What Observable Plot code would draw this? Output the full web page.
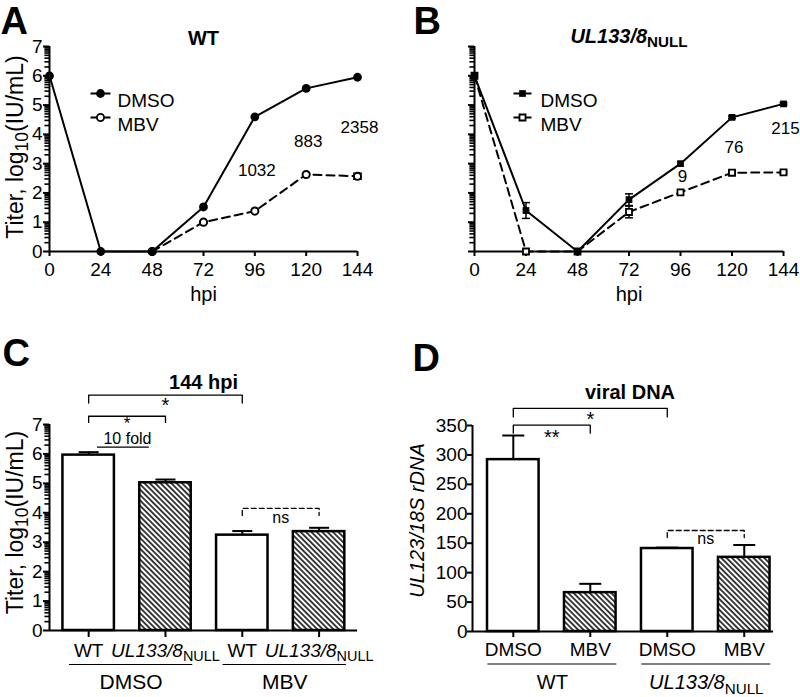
<!DOCTYPE html>
<html><head><meta charset="utf-8">
<script src="https://cdn.jsdelivr.net/npm/d3@7"></script>
<script src="https://cdn.jsdelivr.net/npm/@observablehq/plot@0.6"></script>
<style>
body{margin:0;background:#fff;}
#fig{position:relative;width:800px;height:697px;overflow:hidden;background:#fff;}
</style></head><body>
<svg width="0" height="0" style="position:absolute"><defs>
<pattern id="hatch" patternUnits="userSpaceOnUse" width="3.8" height="3.8" patternTransform="rotate(45)">
<rect width="3.8" height="3.8" fill="white"/><line x1="0" y1="1.9" x2="3.8" y2="1.9" stroke="black" stroke-width="1.5"/>
</pattern></defs></svg>
<div id="fig"></div>
<script>
// ---------------- DATA ----------------
const hpi = [0, 24, 48, 72, 96, 120, 144];
const series = ["DMSO", "MBV"];
// Panel A: WT
const wtDMSO = [6.0, 0, 0, 1.52, 4.6, 5.57, 5.95];
const wtMBV = [null, null, 0, 1.0, 1.38, 2.63, 2.57];
const wtMBVErr = [0, 0, 0, 0, 0, 0, 0.1];
const wtFoldHpi = [96, 120, 144];
const wtFold = ["1032", "883", "2358"];
// Panel B: UL133/8 NULL
const nullDMSO = [6.0, 1.4, 0, 1.77, 3.0, 4.58, 5.04];
const nullDMSOErr = [0, 0.27, 0, 0.2, 0, 0.04, 0.04];
const nullMBV = [6.0, 0, 0, 1.35, 2.02, 2.69, 2.7];
const nullMBVErr = [0, 0, 0, 0.2, 0, 0.05, 0.04];
const nullFoldHpi = [96, 120, 144];
const nullFold = ["9", "76", "215"];
// Panel C: 144 hpi titer
const cTreat = ["DMSO", "DMSO", "MBV", "MBV"];
const cStrain = ["WT", "UL133/8NULL", "WT", "UL133/8NULL"];
const cTiter = [5.96, 5.02, 3.24, 3.36];
const cErr = [0.1, 0.11, 0.14, 0.13];
const cComparisons = [{from: 0, to: 2, label: "*"}, {from: 0, to: 1, label: "*"}, {from: 2, to: 3, label: "ns"}];
// Panel D: viral DNA
const dStrain = ["WT", "WT", "UL133/8NULL", "UL133/8NULL"];
const dTreat = ["DMSO", "MBV", "DMSO", "MBV"];
const dDNA = [292, 66, 141, 126];
const dErr = [41, 15, 1.5, 21];
const dComparisons = [{from: 0, to: 2, label: "*"}, {from: 0, to: 1, label: "**"}, {from: 2, to: 3, label: "ns"}];
const yTicksTiter = [0, 1, 2, 3, 4, 5, 6, 7];
const yTicksDNA = [0, 50, 100, 150, 200, 250, 300, 350];

// ---------------- HELPERS ----------------
const FONT = '"Liberation Sans", Arial, Helvetica, sans-serif';
const baseStyle = {fontFamily: FONT, fontSize: "19px", color: "black", background: "transparent", overflow: "visible"};
const strainLabel = {"WT": "WT", "UL133/8NULL": "~UL133/8~_{NULL}"};
const hseg = {draw(ctx, size) { const r = Math.sqrt(size / Math.PI); ctx.moveTo(-r, 0); ctx.lineTo(r, 0); }};
const logMinor = (max) => d3.range(0, max).flatMap(k => d3.range(2, 10).map(m => k + Math.log10(m)));
const BAR_HALF = 0.335;

function richText(svg) {
  const NS = "http://www.w3.org/2000/svg";
  svg.querySelectorAll("text").forEach(t => {
    if (t.querySelector("tspan")) return;
    const s = t.textContent;
    if (!s.includes("~") && !s.includes("_{")) return;
    const base = parseFloat(getComputedStyle(t).fontSize) || 19;
    const segs = [];
    let italic = false, buf = "", i = 0;
    const flush = () => { if (buf) segs.push({text: buf, italic, sub: false}); buf = ""; };
    while (i < s.length) {
      if (s[i] === "~") { flush(); italic = !italic; i++; }
      else if (s.startsWith("_{", i)) { flush(); const j = s.indexOf("}", i); segs.push({text: s.slice(i + 2, j), italic: false, sub: true}); i = j + 1; }
      else buf += s[i++];
    }
    flush();
    t.textContent = "";
    let shift = 0;
    for (const g of segs) {
      const ts = document.createElementNS(NS, "tspan");
      ts.textContent = g.text;
      if (g.italic) ts.setAttribute("font-style", "italic");
      const target = g.sub ? 0.24 * base : 0;
      if (target !== shift) { ts.setAttribute("dy", (target - shift) + "px"); shift = target; }
      if (g.sub) ts.setAttribute("font-size", (0.76 * base) + "px");
      t.appendChild(ts);
    }
  });
}
const fig = document.getElementById("fig");
function place(svg, left, top) {
  svg.style.position = "absolute"; svg.style.left = left + "px"; svg.style.top = top + "px";
  svg.style.maxWidth = "none";
  fig.appendChild(svg); richText(svg);
}
function titerAxes(showLabels, xAxisPos) {
  return [
    Plot.dot(logMinor(7), {x: () => xAxisPos, y: d => d, dx: -2.5, symbol: hseg, r: 2.6, stroke: "black", strokeWidth: 1.6, fill: "none"}),
    Plot.axisY({ticks: yTicksTiter, tickSize: 6, tickPadding: 1, strokeWidth: 2, label: null, tickFormat: showLabels ? (d => d) : (() => "")})
  ];
}
function legend(dxSym, dxText, half, filledSym, openSym, rFilled, rOpen) {
  const rows = [47, 71];
  return series.flatMap((name, k) => [
    Plot.dot([name], {frameAnchor: "top-left", dx: dxSym, dy: rows[k], symbol: hseg, r: half, stroke: "black", strokeWidth: 2, fill: "none"}),
    k === 0
      ? Plot.dot([name], {frameAnchor: "top-left", dx: dxSym, dy: rows[k], symbol: filledSym, r: rFilled, fill: "black"})
      : Plot.dot([name], {frameAnchor: "top-left", dx: dxSym, dy: rows[k], symbol: openSym, r: rOpen, fill: "white", stroke: "black", strokeWidth: 1.8}),
    Plot.text([name], {frameAnchor: "top-left", dx: dxText, dy: rows[k], textAnchor: "start", fontSize: 19})
  ]);
}
function errMarks(rows, cap) {
  const e = rows.filter(d => d.e > 0);
  return [
    Plot.ruleX(e, {x: "hpi", y1: d => d.v - d.e, y2: d => d.v + d.e, strokeWidth: 1.5}),
    Plot.dot(e, {x: "hpi", y: d => d.v - d.e, symbol: hseg, r: cap, stroke: "black", strokeWidth: 1.5, fill: "none"}),
    Plot.dot(e, {x: "hpi", y: d => d.v + d.e, symbol: hseg, r: cap, stroke: "black", strokeWidth: 1.5, fill: "none"})
  ];
}
function bracketMarks(comps, layout) {
  const out = [];
  comps.forEach((c, k) => {
    const L = layout[k];
    const pts = [[c.from, L.level - L.drop], [c.from, L.level], [c.to, L.level], [c.to, L.level - L.drop]].map(([x, y]) => ({x, y}));
    out.push(Plot.line(pts, {x: "x", y: "y", strokeWidth: 1.3, strokeDasharray: L.dash ? "5,3" : null}));
    out.push(Plot.text([c], {x: d => (d.from + d.to) / 2, y: () => L.level, dy: L.ldy, lineAnchor: "top", text: "label", fontSize: c.label === "ns" ? 16 : (L.fs || 20)}));
  });
  return out;
}
function groupsOf(arr) {
  const g = [];
  arr.forEach((name, i) => { const last = g[g.length - 1]; if (last && last.name === name) last.last = i; else g.push({name, first: i, last: i}); });
  return g;
}

// ---------------- PANEL A ----------------
const aDMSO = hpi.map((h, i) => ({hpi: h, v: wtDMSO[i]}));
const aMBV = hpi.map((h, i) => ({hpi: h, v: wtMBV[i], e: wtMBVErr[i]})).filter(d => d.v != null);
const aFoldY = [2.78, 3.75, 4.24];
const aFold = wtFoldHpi.map((h, i) => ({hpi: h, y: aFoldY[i], label: wtFold[i]}));
const svgA = Plot.plot({
  width: 400, height: 320, marginLeft: 49, marginRight: 43, marginTop: 46, marginBottom: 69,
  style: baseStyle,
  x: {domain: [0, 144]}, y: {domain: [0, 7]},
  marks: [
    ...titerAxes(true, 0),
    Plot.axisX({ticks: hpi, tickSize: 5, tickPadding: 6, strokeWidth: 2, label: null}),
    Plot.ruleY([0], {strokeWidth: 2}),
    Plot.ruleX([0], {strokeWidth: 2}),
    Plot.line(aMBV, {x: "hpi", y: "v", strokeWidth: 2, strokeDasharray: "8,5"}),
    Plot.line(aDMSO, {x: "hpi", y: "v", strokeWidth: 2}),
    ...errMarks(aMBV, 4.5),
    Plot.dot(aMBV, {x: "hpi", y: "v", r: 3.6, fill: "white", stroke: "black", strokeWidth: 2}),
    Plot.dot(aDMSO, {x: "hpi", y: "v", r: 4.4, fill: "black"}),
    ...legend(51, 68, 10, "circle", "circle", 4.4, 3.6),
    Plot.text(aFold, {x: "hpi", y: "y", dx: 2, text: "label", fontSize: 17}),
    Plot.text(["WT"], {frameAnchor: "top", dy: -2, lineAnchor: "bottom", fontWeight: "bold", fontSize: 20}),
    Plot.text(["A"], {frameAnchor: "top-left", dx: -49, dy: -13, textAnchor: "start", lineAnchor: "bottom", fontWeight: "bold", fontSize: 38}),
    Plot.text(["Titer, log_{10}(IU/mL)"], {frameAnchor: "left", dx: -34, dy: -2, textAnchor: "middle", rotate: -90, fontSize: 23}),
    Plot.text(["hpi"], {frameAnchor: "bottom", dy: 49, lineAnchor: "bottom", fontSize: 20})
  ]
});
place(svgA, 0, 0);

// ---------------- PANEL B ----------------
const bDMSO = hpi.map((h, i) => ({hpi: h, v: nullDMSO[i], e: nullDMSOErr[i]}));
const bMBV = hpi.map((h, i) => ({hpi: h, v: nullMBV[i], e: nullMBVErr[i]}));
const bFoldY = [2.55, 3.55, 4.2];
const bFold = nullFoldHpi.map((h, i) => ({hpi: h, y: bFoldY[i], label: nullFold[i]}));
const svgB = Plot.plot({
  width: 400, height: 320, marginLeft: 74, marginRight: 17, marginTop: 46, marginBottom: 69,
  style: baseStyle,
  x: {domain: [0, 144]}, y: {domain: [0, 7]},
  marks: [
    ...titerAxes(false, 0),
    Plot.axisX({ticks: hpi, tickSize: 5, tickPadding: 6, strokeWidth: 2, label: null}),
    Plot.ruleY([0], {strokeWidth: 2}),
    Plot.ruleX([0], {strokeWidth: 2}),
    Plot.line(bMBV, {x: "hpi", y: "v", strokeWidth: 2, strokeDasharray: "8,5"}),
    Plot.line(bDMSO, {x: "hpi", y: "v", strokeWidth: 2}),
    ...errMarks(bMBV, 4),
    ...errMarks(bDMSO, 4),
    Plot.dot(bMBV, {x: "hpi", y: "v", symbol: "square", r: 3.4, fill: "white", stroke: "black", strokeWidth: 1.8}),
    Plot.dot(bDMSO, {x: "hpi", y: "v", symbol: "square", r: 3.8, fill: "black"}),
    ...legend(48, 66, 9, "square", "square", 3.8, 3.4),
    Plot.text(bFold, {x: "hpi", y: "y", dx: 2, text: "label", fontSize: 17}),
    Plot.text(["~UL133/8~_{NULL}"], {frameAnchor: "top", dy: -4, lineAnchor: "bottom", fontWeight: "bold", fontSize: 20}),
    Plot.text(["B"], {frameAnchor: "top-left", dx: -61, dy: -13, textAnchor: "start", lineAnchor: "bottom", fontWeight: "bold", fontSize: 38}),
    Plot.text(["hpi"], {frameAnchor: "bottom", dy: 49, lineAnchor: "bottom", fontSize: 20})
  ]
});
place(svgB, 400, 0);

// ---------------- PANEL C ----------------
const cData = cTreat.map((t, i) => ({i, treat: t, strain: cStrain[i], v: cTiter[i], e: cErr[i]}));
const cGroups = groupsOf(cTreat).map(g => ({...g, x1: g.first - 0.25, x2: g.last + 0.355}));
const cLayout = [{level: 8.0, drop: 0.27, dash: false, ldy: 3}, {level: 7.28, drop: 0.21, dash: false, ldy: 1, fs: 17}, {level: 4.15, drop: 0.24, dash: true, ldy: 3}];
const cX = [-0.51, 3.5];
const svgC = Plot.plot({
  width: 400, height: 377, marginLeft: 49, marginRight: 43, marginTop: 104, marginBottom: 67,
  style: baseStyle,
  x: {domain: cX}, y: {domain: [0, 7]}, color: {type: "identity"},
  marks: [
    ...titerAxes(true, cX[0]),
    Plot.axisX({ticks: cData.map(d => d.i), tickSize: 7, tickPadding: 0, strokeWidth: 2, label: null, tickFormat: () => ""}),
    Plot.rect(cData, {x1: d => d.i - BAR_HALF, x2: d => d.i + BAR_HALF, y1: () => 0, y2: "v", fill: d => d.strain === "WT" ? "white" : "url(#hatch)", stroke: "black", strokeWidth: 2.5}),
    Plot.ruleX(cData, {x: "i", y1: "v", y2: d => d.v + d.e, strokeWidth: 2}),
    Plot.dot(cData, {x: "i", y: d => d.v + d.e, symbol: hseg, r: 10, stroke: "black", strokeWidth: 2, fill: "none"}),
    Plot.ruleY([0], {strokeWidth: 2}),
    Plot.ruleX([cX[0]], {strokeWidth: 2}),
    Plot.text(cData, {x: "i", y: () => 0, dy: 20, text: d => strainLabel[d.strain], fontSize: 19}),
    Plot.ruleY(cGroups, {x1: "x1", x2: "x2", y: () => 0, dy: 34, strokeWidth: 1.2}),
    Plot.text(cGroups, {x: d => (d.x1 + d.x2) / 2, y: () => 0, dy: 52, text: "name", fontSize: 21}),
    ...bracketMarks(cComparisons, cLayout),
    Plot.text(["10 fold"], {x: () => 0.505, y: () => 6.52, fontSize: 16}),
    Plot.ruleY([6.23], {x1: () => 0.115, x2: () => 0.79, strokeWidth: 1.2}),
    Plot.text(["144 hpi"], {frameAnchor: "top", dy: -36, lineAnchor: "bottom", fontWeight: "bold", fontSize: 20}),
    Plot.text(["C"], {frameAnchor: "top-left", dx: -47, dy: -59, textAnchor: "start", lineAnchor: "bottom", fontWeight: "bold", fontSize: 38}),
    Plot.text(["Titer, log_{10}(IU/mL)"], {frameAnchor: "left", dx: -34, dy: -5, textAnchor: "middle", rotate: -90, fontSize: 23})
  ]
});
place(svgC, 0, 320);

// ---------------- PANEL D ----------------
const dData = dTreat.map((t, i) => ({i, treat: t, strain: dStrain[i], v: dDNA[i], e: dErr[i]}));
const dGroups = groupsOf(dStrain).map(g => ({...g, x1: g.first - 0.33, x2: g.last + 0.345}));
const dLayout = [{level: 379, drop: 14.5, dash: false, ldy: 3}, {level: 350.5, drop: 13.5, dash: false, ldy: 5}, {level: 171.6, drop: 12, dash: true, ldy: 2}];
const dX = [-0.53, 3.38];
const svgD = Plot.plot({
  width: 400, height: 377, marginLeft: 72, marginRight: 27, marginTop: 105, marginBottom: 66,
  style: baseStyle,
  x: {domain: dX}, y: {domain: [0, 350]}, color: {type: "identity"},
  marks: [
    Plot.axisY({ticks: yTicksDNA, tickSize: 5, tickPadding: 0, strokeWidth: 2, label: null}),
    Plot.axisX({ticks: dData.map(d => d.i), tickSize: 6, tickPadding: 0, strokeWidth: 2, label: null, tickFormat: () => ""}),
    Plot.rect(dData, {x1: d => d.i - BAR_HALF, x2: d => d.i + BAR_HALF, y1: () => 0, y2: "v", fill: d => d.treat === "DMSO" ? "white" : "url(#hatch)", stroke: "black", strokeWidth: 2.5}),
    Plot.ruleX(dData, {x: "i", y1: "v", y2: d => d.v + d.e, strokeWidth: 2}),
    Plot.dot(dData, {x: "i", y: d => d.v + d.e, symbol: hseg, r: 11, stroke: "black", strokeWidth: 2, fill: "none"}),
    Plot.ruleY([0], {strokeWidth: 2}),
    Plot.ruleX([dX[0]], {strokeWidth: 2}),
    Plot.text(dData, {x: "i", y: () => 0, dy: 18, text: "treat", fontSize: 19}),
    Plot.ruleY(dGroups, {x1: "x1", x2: "x2", y: () => 0, dy: 32.5, strokeWidth: 1.2}),
    Plot.text(dGroups, {x: d => (d.x1 + d.x2) / 2, y: () => 0, dy: 51, text: d => strainLabel[d.name], fontSize: 20}),
    ...bracketMarks(dComparisons, dLayout),
    Plot.text(["viral DNA"], {frameAnchor: "top", dx: 7, dy: -27, lineAnchor: "bottom", fontWeight: "bold", fontSize: 20}),
    Plot.text(["D"], {frameAnchor: "top-left", dx: -60, dy: -55, textAnchor: "start", lineAnchor: "bottom", fontWeight: "bold", fontSize: 38}),
    Plot.text(["UL123/18S rDNA"], {frameAnchor: "left", dx: -55, dy: -8, textAnchor: "middle", rotate: -90, fontSize: 20, fontStyle: "italic"})
  ]
});
place(svgD, 400, 320);
</script>
</body></html>
